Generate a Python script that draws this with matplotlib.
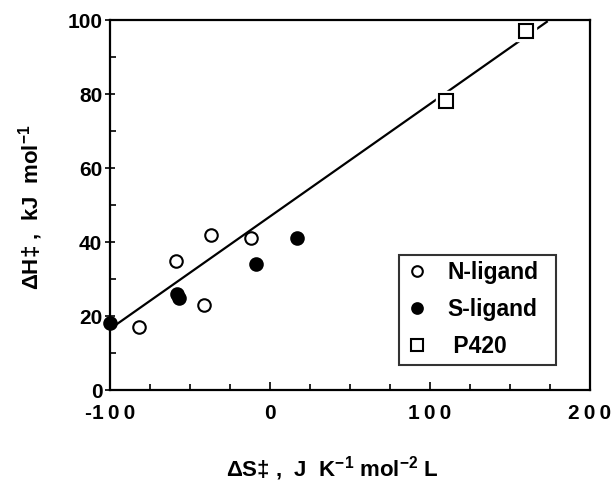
import matplotlib
matplotlib.use('Agg')
import matplotlib.pyplot as plt
from matplotlib.ticker import MultipleLocator, FixedLocator, FixedFormatter

plt.rcParams['font.family'] = ['Liberation Sans', 'DejaVu Sans']
plt.rcParams['font.weight'] = 'bold'
plt.rcParams['mathtext.fontset'] = 'custom'
plt.rcParams['mathtext.rm'] = 'Liberation Sans:bold'
plt.rcParams['mathtext.it'] = 'Liberation Sans:bold'
plt.rcParams['mathtext.bf'] = 'Liberation Sans:bold'
plt.rcParams['mathtext.default'] = 'rm'

# activation parameters (dS in J/K/mol, dH in kJ/mol)
n_dS = [-82, -59, -41, -37, -12]
n_dH = [17, 35, 23, 42, 41]
s_dS = [-100, -58, -57, -9, 17]
s_dH = [18, 26, 25, 34, 41]
p420_dS = [110, 160]
p420_dH = [78, 97]
# isokinetic line
fit_dS = [-100, 173]
fit_dH = [16.5, 99.5]

x_ticks = [-100, 0, 100, 200]
y_ticks = [0, 20, 40, 60, 80, 100]

fig = plt.figure(figsize=(6.14, 4.84), dpi=100)
ax = fig.add_axes([110/614, (484-390)/484, 480/614, 370/484])

ax.plot(fit_dS, fit_dH, color='black', lw=1.6, zorder=1, clip_on=False)
ax.plot(p420_dS, p420_dH, ls='none', marker='s', ms=15, mfc='white', mec='white',
        zorder=2, clip_on=False)
ax.plot(n_dS, n_dH, ls='none', marker='o', ms=9, mfc='white', mec='black', mew=1.5,
        zorder=3, clip_on=False, label='N-ligand')
ax.plot(s_dS, s_dH, ls='none', marker='o', ms=9, mfc='black', mec='black', mew=1.5,
        zorder=3, clip_on=False, label='S-ligand')
ax.plot(p420_dS, p420_dH, ls='none', marker='s', ms=9.5, mfc='white', mec='black', mew=1.5,
        zorder=3, clip_on=False, label=' P420')

ax.set_xlim(-100, 200)
ax.set_ylim(0, 100)
# x tick labels are printed with spread-out digits
ax.xaxis.set_major_locator(FixedLocator(x_ticks))
ax.xaxis.set_major_formatter(FixedFormatter(
    [('-' if v < 0 else '') + '\u2009'.join(str(abs(v))) for v in x_ticks]))
ax.xaxis.set_minor_locator(MultipleLocator(25))
ax.yaxis.set_major_locator(FixedLocator(y_ticks))
ax.yaxis.set_minor_locator(MultipleLocator(10))
ax.tick_params(axis='x', which='major', direction='in', length=6, width=1.2, pad=10, labelsize=15)
ax.tick_params(axis='x', which='minor', direction='in', length=4, width=1.2)
ax.tick_params(axis='y', which='major', direction='inout', length=7, width=1.2, pad=2, labelsize=15)
ax.tick_params(axis='y', which='minor', direction='in', length=4, width=1.2)
ax.tick_params(top=False, right=False, which='both')
for sp in ax.spines.values():
    sp.set_linewidth(1.6)

ax.set_xlabel('ΔS‡ ,  J  K$^{-1}$ mol$^{-2}$ L', fontsize=16, fontweight='bold', va='center')
ax.xaxis.set_label_coords(0.4625, -0.212)
ax.set_ylabel('ΔH‡ ,  kJ  mol$^{-1}$', fontsize=16, fontweight='bold', va='center')
ax.yaxis.set_label_coords(-0.165, 0.495)

leg = ax.legend(loc='lower left', bbox_to_anchor=(0.602, 0.068, 0.327, 0.2), mode='expand',
                fontsize=16.5, frameon=True, fancybox=False, edgecolor='black',
                borderpad=0.3, labelspacing=0.6, handlelength=1.0, handletextpad=0.8,
                borderaxespad=0, markerscale=0.85)
leg.get_frame().set_linewidth(1.5)

fig.savefig('out.png', dpi=100)
